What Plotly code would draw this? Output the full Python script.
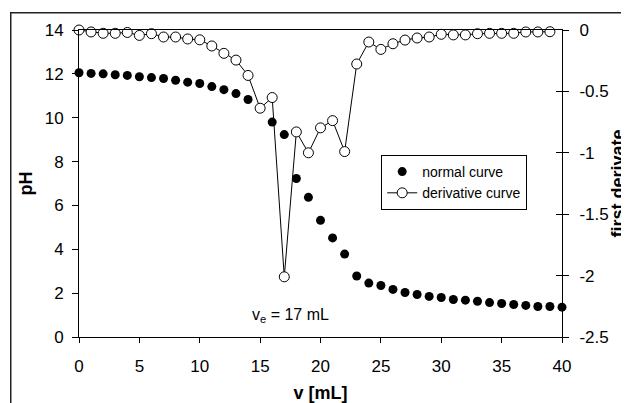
import plotly.graph_objects as go

v = list(range(41))
pH = [12.05, 12.02, 12.0, 11.96, 11.93, 11.87, 11.83, 11.79, 11.71, 11.62,
      11.56, 11.42, 11.28, 11.10, 10.83, 10.43, 9.80, 9.23, 7.23, 6.37,
      5.32, 4.52, 3.78, 2.78, 2.46, 2.35, 2.17, 2.03, 1.94, 1.85,
      1.80, 1.71, 1.68, 1.63, 1.57, 1.53, 1.48, 1.44, 1.39, 1.39, 1.36]
v_d = list(range(40))
deriv = [0.0, -0.016, -0.027, -0.027, -0.02, -0.044, -0.03, -0.057, -0.057, -0.073,
         -0.08, -0.13, -0.19, -0.245, -0.37, -0.637, -0.55, -2.01, -0.83, -1.0,
         -0.797, -0.738, -0.99, -0.277, -0.098, -0.158, -0.112, -0.082, -0.065, -0.057,
         -0.035, -0.04, -0.04, -0.03, -0.027, -0.027, -0.027, -0.016, -0.016, -0.014]
right_ticks = [0, -0.5, -1, -1.5, -2, -2.5]
right_labels = ["0", "-0.5", "-1", "-1.5", "-2", "-2.5"]

FONT = "Liberation Sans, Arial, sans-serif"
OFF = 8                      # default page body margin
W, H = 629 - OFF, 403 - OFF  # figure size so it ends at the window edge


def px(x):  # page x -> paper fraction
    return (x - OFF) / W


def py(y):  # page y -> paper fraction
    return (H - (y - OFF)) / H


XD = [px(79), px(562)]
YD = [py(337), py(30)]

fig = go.Figure()
fig.add_trace(go.Scatter(x=v, y=pH, mode="markers", name="normal curve",
                         marker=dict(symbol="circle", size=9, color="black"),
                         cliponaxis=False, xaxis="x", yaxis="y"))
fig.add_trace(go.Scatter(x=v_d, y=deriv, mode="lines+markers", name="derivative curve",
                         line=dict(color="black", width=1),
                         marker=dict(symbol="circle", size=10, color="white",
                                     line=dict(color="black", width=1)),
                         cliponaxis=False, xaxis="x", yaxis="y2"))
fig.add_trace(go.Scatter(x=[None], y=[None], showlegend=False, xaxis="x", yaxis="y3",
                         hoverinfo="skip"))
# empty trace for the full-figure frame subplot (its axis lines draw the outer frame)
fig.add_trace(go.Scatter(x=[None], y=[None], showlegend=False, xaxis="x2", yaxis="y4",
                         hoverinfo="skip"))

fig.update_layout(
    width=W, height=H,
    margin=dict(l=0, r=0, t=0, b=0, pad=0, autoexpand=False),
    paper_bgcolor="white", plot_bgcolor="rgba(0,0,0,0)",
    font=dict(family=FONT, size=17, color="black"),
    showlegend=True,
    xaxis=dict(domain=XD, anchor="y", range=[0, 40], dtick=5, tick0=0,
               showgrid=False, zeroline=False,
               showline=True, linecolor="black", linewidth=1, mirror=True,
               ticks="outside", ticklen=5, tickcolor="black", tickwidth=1,
               ticklabelstandoff=9, automargin=False,
               title=dict(text="<b>v [mL]</b>", font=dict(size=18), standoff=10)),
    yaxis=dict(domain=YD, anchor="x", range=[0, 14], dtick=2, tick0=0,
               showgrid=False, zeroline=False,
               showline=True, linecolor="black", linewidth=1,
               ticks="outside", ticklen=6, tickcolor="black", tickwidth=1,
               ticklabelstandoff=5, automargin=False,
               title=dict(text="<b>pH</b>", font=dict(size=18), standoff=7)),
    yaxis2=dict(range=[-2.5, 0], tickvals=right_ticks, ticktext=right_labels,
                overlaying="y", anchor="x", side="right",
                showgrid=False, zeroline=False,
                showline=True, linecolor="black", linewidth=1,
                ticks="outside", ticklen=6, tickcolor="black", tickwidth=1,
                ticklabelstandoff=7, automargin=False),
    yaxis3=dict(range=[-2.5, 0], tickvals=right_ticks, overlaying="y", anchor="x",
                side="right", showgrid=False, zeroline=False, showline=False,
                ticks="inside", ticklen=6, tickcolor="black", tickwidth=1,
                showticklabels=False, automargin=False),
    xaxis2=dict(domain=[px(11), 1], anchor="y4", side="top", range=[0, 1],
                showline=True, linecolor="#222222", linewidth=1,
                showgrid=False, zeroline=False, ticks="", showticklabels=False,
                fixedrange=True, automargin=False),
    yaxis4=dict(domain=[0, py(13)], anchor="x2", side="left", range=[0, 1],
                showline=True, linecolor="#222222", linewidth=1,
                showgrid=False, zeroline=False, ticks="", showticklabels=False,
                fixedrange=True, automargin=False),
    legend=dict(x=378 / 629, y=(403 - 150) / 403, xanchor="left", yanchor="top",
                bgcolor="white", bordercolor="black", borderwidth=1,
                font=dict(size=14), tracegroupgap=0, itemwidth=30),
    annotations=[
        dict(x=14.2, y=1.0, xref="x", yref="y", xanchor="left", yanchor="middle",
             text="v<sub>e</sub> = 17 mL", showarrow=False, font=dict(size=16)),
        dict(x=px(617), y=py(183.5), xref="paper", yref="paper",
             xanchor="center", yanchor="middle", textangle=-90,
             text="<b>first derivate</b>", showarrow=False, font=dict(size=18)),
    ],
    shapes=[
        dict(type="line", xref="paper", yref="paper",
             x0=px(11), x1=px(11), y0=0, y1=py(13),
             line=dict(color="#222222", width=1), layer="above"),
        dict(type="line", xref="paper", yref="paper",
             x0=px(11), x1=1, y0=py(13), y1=py(13),
             line=dict(color="#222222", width=1), layer="above"),
    ],
)

fig.write_html("out.html", config={"staticPlot": True})
